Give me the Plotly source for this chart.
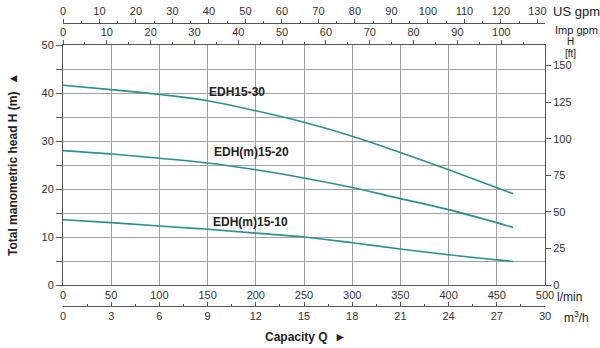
import plotly.graph_objects as go

# Data (l/min vs head m)
q_lmin = [0, 50, 100, 150, 200, 250, 300, 350, 400, 467]
h_edh15_30 = [41.6, 40.7, 39.7, 38.4, 36.3, 33.9, 31.0, 27.6, 24.0, 19.0]
h_edh15_20 = [28.0, 27.3, 26.4, 25.4, 24.0, 22.3, 20.3, 18.0, 15.7, 12.0]
h_edh15_10 = [13.6, 13.0, 12.3, 11.6, 10.8, 10.0, 8.8, 7.5, 6.3, 4.9]
series_names = ["EDH15-30", "EDH(m)15-20", "EDH(m)15-10"]
label_pos_q = [181, 196, 194]
label_pos_h = [40.2, 27.7, 13.1]

W, H = 600, 348
L, R = 63, 55
top_px, bot_px = 45, 285
def fy(px):
    return (H - px) / H

font = "Liberation Sans, Arial, sans-serif"
tickfont = dict(family=font, size=11, color="#333")
linec = "#555"
gridc = "#a0a0a0"
curve_c = "#2a9090"

fig = go.Figure()
for h in [h_edh15_30, h_edh15_20, h_edh15_10]:
    fig.add_trace(go.Scatter(x=q_lmin, y=h, mode="lines",
                             line=dict(color=curve_c, width=1.6, shape="spline", smoothing=1.0),
                             showlegend=False, hoverinfo="skip"))
# invisible traces to activate secondary axes
for xa, ya in [("x2", "y"), ("x3", "y"), ("x4", "y"), ("x", "y2")]:
    fig.add_trace(go.Scatter(x=[0], y=[0], xaxis=xa, yaxis=ya, mode="markers",
                             marker=dict(opacity=0), showlegend=False, hoverinfo="skip"))

dom_y = [fy(bot_px), fy(top_px)]

fig.update_layout(
    width=W, height=H, autosize=False,
    margin=dict(l=L, r=R, t=0, b=0),
    paper_bgcolor="white", plot_bgcolor="white",
    font=dict(family=font, size=11, color="#333"),
    xaxis=dict(range=[0, 500], dtick=50, tick0=0, showgrid=True, gridcolor=gridc, gridwidth=1,
               showline=True, linecolor=linec, linewidth=1, mirror=False, ticks="",
               tickfont=tickfont, zeroline=False, automargin=False, domain=[0, 1], anchor="y"),
    yaxis=dict(range=[0, 50], dtick=10, tick0=0, showgrid=True, gridcolor=gridc, gridwidth=1,
               showline=True, linecolor=linec, linewidth=1, ticks="outside", ticklen=6, tickcolor=linec,
               minor=dict(dtick=5, showgrid=True, gridcolor=gridc, ticks="outside", ticklen=6, tickcolor=linec),
               tickfont=tickfont, zeroline=False, automargin=False, domain=dom_y, anchor="x"),
    xaxis2=dict(range=[0, 500 / 3.78541], dtick=10, tick0=0, overlaying="x", anchor="free",
                position=fy(23), side="top", showgrid=False, showline=True, linecolor=linec,
                ticks="outside", ticklen=4, tickcolor=linec,
                minor=dict(dtick=5, ticks="outside", ticklen=2, tickcolor=linec),
                tickfont=tickfont, zeroline=False, automargin=False),
    xaxis3=dict(range=[0, 500 / 4.54609], dtick=10, tick0=0, overlaying="x", anchor="y",
                side="top", showgrid=False, showline=True, linecolor=linec,
                ticks="outside", ticklen=4, tickcolor=linec,
                minor=dict(dtick=5, ticks="outside", ticklen=2, tickcolor=linec),
                tickfont=tickfont, zeroline=False, automargin=False),
    xaxis4=dict(range=[0, 30], dtick=3, tick0=0, overlaying="x", anchor="free",
                position=fy(306), side="bottom", showgrid=False, showline=True, linecolor=linec,
                ticks="inside", ticklen=4, tickcolor=linec,
                minor=dict(dtick=1.5, ticks="inside", ticklen=2, tickcolor=linec),
                tickfont=tickfont, zeroline=False, automargin=False),
    yaxis2=dict(range=[0, 50 / 0.3048], overlaying="y", anchor="x", side="right",
                showgrid=False, showline=True, linecolor=linec, ticks="outside", ticklen=5, tickcolor=linec,
                tickvals=[0, 25, 50, 75, 100, 125, 150],
                tickfont=tickfont, zeroline=False, automargin=False),
)

ann = []
for name, qx, hy in zip(series_names, label_pos_q, label_pos_h):
    ann.append(dict(x=qx, y=hy, xref="x", yref="y", text="<b>" + name + "</b>", showarrow=False,
                    font=dict(family=font, size=12, color="#222")))
def pann(text, xpx, ypx, size=12, xanchor="left", bold=False, angle=0):
    t = "<b>" + text + "</b>" if bold else text
    ann.append(dict(x=(xpx - L) / (W - L - R), y=fy(ypx), xref="paper", yref="paper", text=t,
                    showarrow=False, xanchor=xanchor, yanchor="middle", textangle=angle,
                    font=dict(family=font, size=size, color="#222")))
pann("US gpm", 551, 11, size=13)
pann("Imp gpm", 553, 30, size=11)
pann("H", 570, 41, size=10, xanchor="center")
pann("[ft]", 570, 54, size=10, xanchor="center")
pann("l/min", 555, 297, size=12)
pann("m<sup>3</sup>/h", 562, 317, size=12)
pann("Capacity Q  \u25ba", 305, 337, size=12, xanchor="center", bold=True)
pann("Total manometric head H (m)  \u25b2", 13, 165, size=12, xanchor="center", bold=True, angle=-90)
fig.update_layout(annotations=ann)

fig.write_html("out.html")
